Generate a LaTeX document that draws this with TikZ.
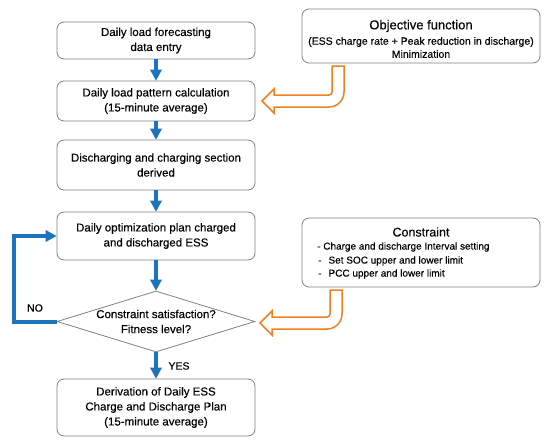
\documentclass[tikz,border=0pt]{standalone}
\usepackage{fontspec}
\setmainfont{Liberation Sans}[UprightFeatures={FakeBold=0.35}]
\usetikzlibrary{shapes.geometric,arrows.meta}
\definecolor{flowblue}{RGB}{28,117,188}
\definecolor{floworange}{RGB}{240,128,32}
\definecolor{boxgray}{RGB}{128,128,128}
\begin{document}
\begin{tikzpicture}[x=1pt,y=1pt,yscale=-1,
  box/.style={draw=boxgray, line width=0.8pt, rounded corners=7pt, minimum width=198pt, inner sep=0pt, align=center, font=\fontsize{11.5}{15}\selectfont},
  flow/.style={draw=flowblue, line width=4pt, -{Triangle[width=12pt,length=11pt,line width=0pt]}},
  hollow/.style={draw=floworange, line width=1.5pt, line join=miter, fill=white},
  txt/.style={inner sep=0pt, align=center, font=\fontsize{11.5}{15}\selectfont},
  small/.style={inner sep=0pt, font=\fontsize{10}{12}\selectfont},
  lbl/.style={inner sep=0pt, font=\fontsize{10.5}{12}\selectfont}]
\useasboundingbox (0,0) rectangle (550,442);
% main column
\node[box, minimum height=37pt] (b1) at (156,40.5) {Daily load forecasting\\data entry};
\node[box, minimum height=40pt] (b2) at (156,101) {Daily load pattern calculation\\(15-minute average)};
\node[box, minimum height=50pt] (b3) at (156,165) {Discharging and charging section\\derived};
\node[box, minimum height=48pt] (b4) at (156,236) {Daily optimization plan charged\\and discharged ESS};
\node[draw=boxgray, line width=0.8pt, diamond, minimum width=198pt, minimum height=61pt, inner sep=0pt] (dia) at (156,321.5) {};
\node[txt] (diatext) at (dia.center) {Constraint satisfaction?\\Fitness level?};
\node[box, minimum height=57pt] (b5) at (156,407.5) {Derivation of Daily ESS\\Charge and Discharge Plan\\(15-minute average)};
% objective box
\node[box, minimum width=238pt, minimum height=54pt] (obj) at (421,36) {};
\node[inner sep=0pt, font=\fontsize{13}{15}\selectfont] (objt) at (421,26) {Objective function};
\node[inner sep=0pt, font=\fontsize{10.5}{12}\selectfont] (objf) at (421,42) {(ESS charge rate + Peak reduction in discharge)};
\node[inner sep=0pt, font=\fontsize{10.5}{12}\selectfont] (objm) at (421,54) {Minimization};
% constraint box
\node[box, minimum width=238pt, minimum height=69pt] (con) at (421,252.5) {};
\node[inner sep=0pt, font=\fontsize{12.5}{15}\selectfont] (cont) at (421,232) {Constraint};
\node[small, anchor=west] (c1) at (317,247) {- Charge and discharge Interval setting};
\node[small, anchor=west] (c2) at (317,261) {\hspace{1pt}-\hspace{7pt}Set SOC upper and lower limit};
\node[small, anchor=west] (c3) at (317,274) {\hspace{1pt}-\hspace{7pt}PCC upper and lower limit};
% blue flow arrows
\draw[flow] (b1) -- (b2);
\draw[flow] (b2) -- (b3);
\draw[flow] (b3) -- (b4);
\draw[flow] (b4) -- (dia);
\draw[flow] (dia) -- (b5);
\draw[flow] (dia.west) -- ++(-43,0) |- (b4.west);
\node[lbl] (no) at (35,308) {NO};
\node[lbl] (yes) at (179,366) {YES};
% hollow orange arrows
\draw[hollow] (332,66) -- (332,92) arc[start angle=0, end angle=90, radius=3pt]
  -- (274,95) -- (274,89) -- (262,101) -- (274,113) -- (274,107) -- (329,107)
  arc[start angle=90, end angle=0, radius=15pt] -- (344,66) -- cycle;
\draw[hollow] (330,290) -- (330,314) arc[start angle=0, end angle=90, radius=3pt]
  -- (272,317) -- (272,311) -- (260,323) -- (272,335) -- (272,329) -- (327,329)
  arc[start angle=90, end angle=0, radius=15pt] -- (342,290) -- cycle;
\end{tikzpicture}
\end{document}
